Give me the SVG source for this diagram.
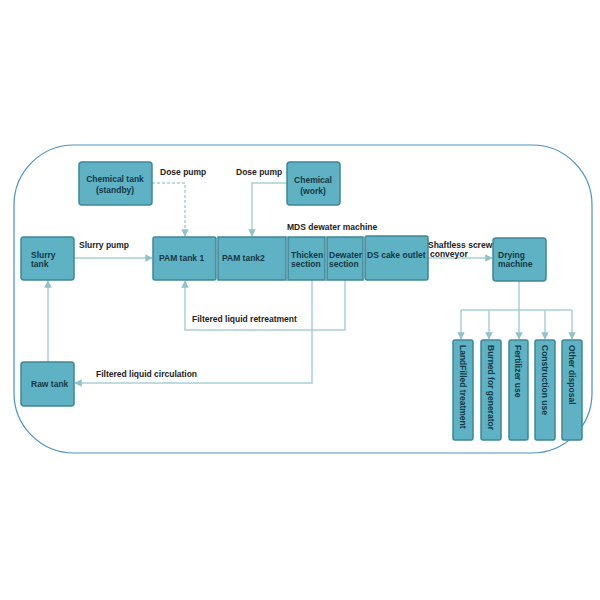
<svg xmlns="http://www.w3.org/2000/svg" width="600" height="600" viewBox="0 0 600 600">
<defs>
<style>
.n{fill:#5fb2c3;stroke:#3e8797;stroke-width:1.5}
.t{font-family:"Liberation Sans",Arial,sans-serif;font-size:8.5px;font-weight:bold;fill:#143846}
.l{font-family:"Liberation Sans",Arial,sans-serif;font-size:8.5px;font-weight:bold;fill:#222}
.c{fill:none;stroke:#a9cfd7;stroke-width:1.5}
</style>
<marker id="a" viewBox="0 0 10 10" refX="9" refY="5" markerWidth="5" markerHeight="5" orient="auto"><path d="M0,0L10,5L0,10z" fill="#8fc2cc"/></marker>
</defs>
<rect x="0" y="0" width="600" height="600" fill="#fff"/>
<rect x="14" y="145" width="578" height="308" rx="60" fill="none" stroke="#4a90c8" stroke-width="1.2"/>
<g id="connectors">
<path class="c" d="M152,183H185V236" stroke-dasharray="3,2" marker-end="url(#a)"/>
<path class="c" d="M287,183H252V236" marker-end="url(#a)"/>
<path class="c" d="M74,258H152" marker-end="url(#a)"/>
<path class="c" d="M428,258H492" marker-end="url(#a)"/>
<path class="c" d="M312,280V330M345,280V330H185V281" marker-end="url(#a)"/>
<path class="c" d="M312,330V383H75" marker-end="url(#a)"/>
<path class="c" d="M48,362V281" marker-end="url(#a)"/>
<path class="c" d="M519,281V310M461,310H572"/>
<path class="c" d="M461,310V339" marker-end="url(#a)"/>
<path class="c" d="M489,310V339" marker-end="url(#a)"/>
<path class="c" d="M519,310V339" marker-end="url(#a)"/>
<path class="c" d="M545,310V339" marker-end="url(#a)"/>
<path class="c" d="M572,310V339" marker-end="url(#a)"/>
</g>
<g id="chem1"><rect class="n" x="79" y="162" width="73" height="43" rx="3"/><text class="t" x="115" y="182" text-anchor="middle">Chemical tank</text><text class="t" x="115" y="193" text-anchor="middle">(standby)</text></g>
<g id="chem2"><rect class="n" x="287" y="162" width="53" height="43" rx="3"/><text class="t" x="313" y="183" text-anchor="middle">Chemical</text><text class="t" x="313" y="194" text-anchor="middle">(work)</text></g>
<g id="slurry"><rect class="n" x="21" y="237" width="53" height="43" rx="3"/><text class="t" x="31" y="258">Slurry</text><text class="t" x="31" y="267">tank</text></g>
<g id="pam1"><rect class="n" x="153" y="237" width="63" height="43" rx="2"/><text class="t" x="159" y="261">PAM tank 1</text></g>
<g id="pam2"><rect class="n" x="218" y="237" width="68" height="43"/><text class="t" x="222" y="261">PAM tank2</text></g>
<g id="thicken"><rect class="n" x="288" y="237" width="37" height="43"/><text class="t" x="291" y="258">Thicken</text><text class="t" x="291" y="267">section</text></g>
<g id="dewater"><rect class="n" x="327" y="237" width="36" height="43"/><text class="t" x="329" y="258">Dewater</text><text class="t" x="329" y="267">section</text></g>
<g id="ds"><rect class="n" x="365" y="236" width="63" height="44" rx="2"/><text class="t" x="367" y="258">DS cake outlet</text></g>
<g id="drying"><rect class="n" x="493" y="238" width="53" height="43" rx="3"/><text class="t" x="498" y="258">Drying</text><text class="t" x="498" y="267">machine</text></g>
<g id="raw"><rect class="n" x="21" y="362" width="53" height="44" rx="3"/><text class="t" x="31" y="387">Raw tank</text></g>
<g id="landfill"><rect class="n" x="453" y="340" width="20" height="100" rx="2"/><text class="t" font-weight="normal" transform="translate(460,345) rotate(90)">LandFilled treatment</text></g>
<g id="burned"><rect class="n" x="481" y="340" width="20" height="100" rx="2"/><text class="t" font-weight="normal" transform="translate(488,345) rotate(90)">Burned for generator</text></g>
<g id="fert"><rect class="n" x="509" y="340" width="19" height="100" rx="2"/><text class="t" font-weight="normal" transform="translate(515,345) rotate(90)">Fertilizer use</text></g>
<g id="constr"><rect class="n" x="535" y="340" width="20" height="100" rx="2"/><text class="t" font-weight="normal" transform="translate(542,345) rotate(90)">Construction use</text></g>
<g id="other"><rect class="n" x="562" y="340" width="20" height="100" rx="2"/><text class="t" font-weight="normal" transform="translate(569,345) rotate(90)">Other disposal</text></g>
<g id="labels">
<text class="l" x="160" y="175">Dose pump</text>
<text class="l" x="236" y="175">Dose pump</text>
<text class="l" x="287" y="230">MDS dewater machine</text>
<text class="l" x="79" y="248">Slurry pump</text>
<text class="l" x="428" y="248">Shaftless screw</text>
<text class="l" x="430" y="257">conveyor</text>
<text class="l" x="192" y="322">Filtered liquid retreatment</text>
<text class="l" x="96" y="377">Filtered liquid circulation</text>
</g>
</svg>
